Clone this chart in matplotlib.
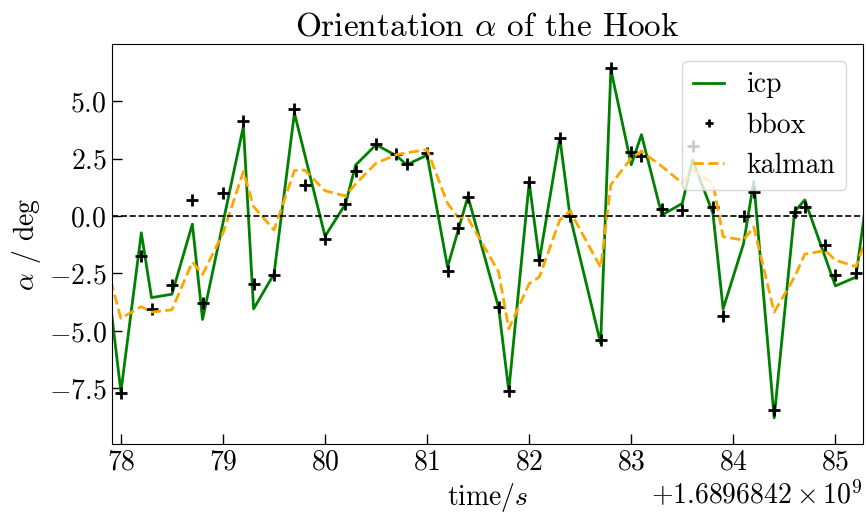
import matplotlib
matplotlib.use("Agg")
import matplotlib.pyplot as plt
import numpy as np

plt.rcParams['font.family'] = 'serif'
plt.rcParams['font.serif'] = ['cmr10']
plt.rcParams['mathtext.fontset'] = 'cm'
plt.rcParams['axes.formatter.use_mathtext'] = True
plt.rcParams['font.size'] = 20

base = 1.6896842e9

t_icp = [77.9, 78.0, 78.2, 78.3, 78.5, 78.7, 78.8, 79.2, 79.3, 79.5, 79.7, 80.0,
         80.2, 80.3, 80.5, 80.7, 80.8, 81.0, 81.2, 81.4, 81.7, 81.8, 82.0, 82.1,
         82.3, 82.4, 82.7, 82.8, 83.0, 83.1, 83.3, 83.5, 83.6, 83.8, 83.9, 84.1,
         84.2, 84.4, 84.6, 84.7, 85.0, 85.2, 85.3]
icp = [-3.9, -7.65, -0.73, -3.55, -3.4, -0.35, -4.5, 3.9, -4.04, -2.52, 4.48, -0.88,
       0.52, 2.22, 3.1, 2.62, 2.23, 2.65, -2.22, 0.85, -3.97, -7.6, 1.46, -1.92,
       3.4, 0.0, -5.54, 6.38, 2.23, 3.54, 0.04, 0.55, 2.45, 0.12, -4.04, -1.2,
       1.5, -8.78, 0.19, 0.7, -3.04, -2.66, 0.6]

t_bbox = [78.0, 78.2, 78.3, 78.5, 78.7, 78.8, 79.0, 79.2, 79.3, 79.5, 79.7, 79.8,
          80.0, 80.2, 80.3, 80.5, 80.7, 80.8, 81.0, 81.2, 81.3, 81.4, 81.7, 81.8,
          82.0, 82.1, 82.3, 82.4, 82.7, 82.8, 83.0, 83.1, 83.3, 83.5, 83.6, 83.8,
          83.9, 84.1, 84.2, 84.4, 84.6, 84.7, 84.9, 85.0, 85.2]
bbox = [-7.68, -1.72, -4.05, -3.0, 0.68, -3.8, 1.02, 4.13, -2.94, -2.58, 4.64, 1.36,
        -1.0, 0.53, 1.98, 3.15, 2.71, 2.25, 2.74, -2.39, -0.5, 0.82, -3.94, -7.61,
        1.46, -1.92, 3.4, 0.0, -5.39, 6.46, 2.77, 2.6, 0.29, 0.26, 3.03, 0.41,
        -4.37, 0.0, 1.06, -8.44, 0.19, 0.4, -1.26, -2.57, -2.49]

t_kalman = [77.9, 78.0, 78.2, 78.3, 78.5, 78.7, 78.8, 79.0, 79.2, 79.3, 79.5, 79.7,
            79.8, 80.0, 80.2, 80.3, 80.5, 80.7, 80.8, 81.0, 81.2, 81.3, 81.4, 81.7,
            81.8, 82.0, 82.1, 82.3, 82.4, 82.7, 82.8, 83.0, 83.1, 83.3, 83.5, 83.6,
            83.8, 83.9, 84.1, 84.2, 84.4, 84.6, 84.7, 84.9, 85.0, 85.2, 85.3]
kalman = [-2.8, -4.45, -3.94, -4.18, -4.08, -2.0, -2.54, -0.75, 1.94, 0.41, -0.61, 1.98,
          2.0, 1.1, 0.87, 1.4, 2.3, 2.67, 2.75, 2.89, 0.55, -0.03, -0.1, -2.43,
          -4.91, -2.94, -2.65, -0.17, 0.22, -2.24, 1.36, 2.52, 2.81, 2.16, 1.43, 2.0,
          1.43, -0.9, -1.05, -0.47, -4.18, -2.65, -1.66, -1.5, -1.92, -2.2, -1.0]

fig = plt.figure(figsize=(8.66, 5.14), dpi=100)
ax = fig.add_axes([0.129, 0.1356, 0.8675, 0.7782])

ax.plot(base + np.array(t_icp), icp, color='green', lw=2, label='icp')
ax.plot(base + np.array(t_bbox), bbox, '+', color='black', ms=9, mew=2, label='bbox')
ax.plot(base + np.array(t_kalman), kalman, '--', color='orange', lw=2, label='kalman')
ax.axhline(0, color='black', ls='--', lw=1.2)

ax.set_xlim(base + 77.91, base + 85.27)
ax.set_ylim(-9.93, 7.47)
ax.tick_params(direction='in', length=7, width=1)
ax.set_title(r'Orientation $\alpha$ of the Hook')
ax.set_xlabel(r'time/$s$')
ax.set_ylabel(r'$\alpha$ / deg')
ax.legend(loc='upper right', handlelength=1.1, markerscale=0.7, borderaxespad=0.6)

fig.savefig('out.png', dpi=100)
